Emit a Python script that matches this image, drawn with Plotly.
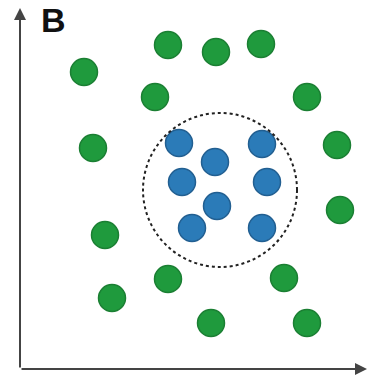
import plotly.graph_objects as go

# Outer class (green) points, in chart units (origin at axes corner)
green_x = [64, 148, 196, 241, 135, 287, 73, 317, 85, 320, 148, 264, 92, 191, 287]
green_y = [297, 324, 317, 325, 272, 272, 221, 224, 134, 159, 90, 91, 71, 46, 46]

# Inner class (blue) points
blue_x = [159, 195, 242, 162, 247, 197, 172, 242]
blue_y = [226, 207, 225, 187, 187, 163, 141, 141]

# Dotted boundary circle (center and radius, chart units)
circle_cx, circle_cy, circle_r = 200, 179, 77

label = "B"

fig = go.Figure()
fig.add_trace(go.Scatter(
    x=green_x, y=green_y, mode="markers",
    marker=dict(size=27, color="#1f9a3d", line=dict(color="#1b7f33", width=1.5)),
    hoverinfo="skip", showlegend=False, cliponaxis=False))
fig.add_trace(go.Scatter(
    x=blue_x, y=blue_y, mode="markers",
    marker=dict(size=27, color="#2b7bb8", line=dict(color="#225f91", width=1.5)),
    hoverinfo="skip", showlegend=False, cliponaxis=False))

fig.add_shape(type="circle", xref="x", yref="y",
              x0=circle_cx - circle_r, x1=circle_cx + circle_r,
              y0=circle_cy - circle_r, y1=circle_cy + circle_r,
              line=dict(color="#222222", width=2, dash="dot"))

# Axes with arrows
fig.add_annotation(x=0, y=361, ax=0, ay=0, xref="x", yref="y", axref="x", ayref="y",
                   showarrow=True, arrowhead=2, arrowsize=1.2, arrowwidth=2,
                   arrowcolor="#444444", text="")
fig.add_annotation(x=347, y=0, ax=0, ay=0, xref="x", yref="y", axref="x", ayref="y",
                   showarrow=True, arrowhead=2, arrowsize=1.2, arrowwidth=2,
                   arrowcolor="#444444", text="")

fig.add_annotation(x=33, y=369, xref="x", yref="y", yanchor="top", borderpad=0,
                   text="<b>" + label + "</b>", showarrow=False,
                   font=dict(family="Liberation Sans, Arial", size=34, color="#111111"))

fig.update_layout(
    width=368, height=378,
    margin=dict(l=0, r=0, t=0, b=0),
    paper_bgcolor="white", plot_bgcolor="white",
    xaxis=dict(range=[-20, 348], visible=False, fixedrange=True),
    yaxis=dict(range=[-9, 369], visible=False, fixedrange=True),
)

fig.write_html("out.html", config={"displayModeBar": False, "staticPlot": True},
               post_script="document.body.style.margin='0';document.body.style.overflow='hidden';")
